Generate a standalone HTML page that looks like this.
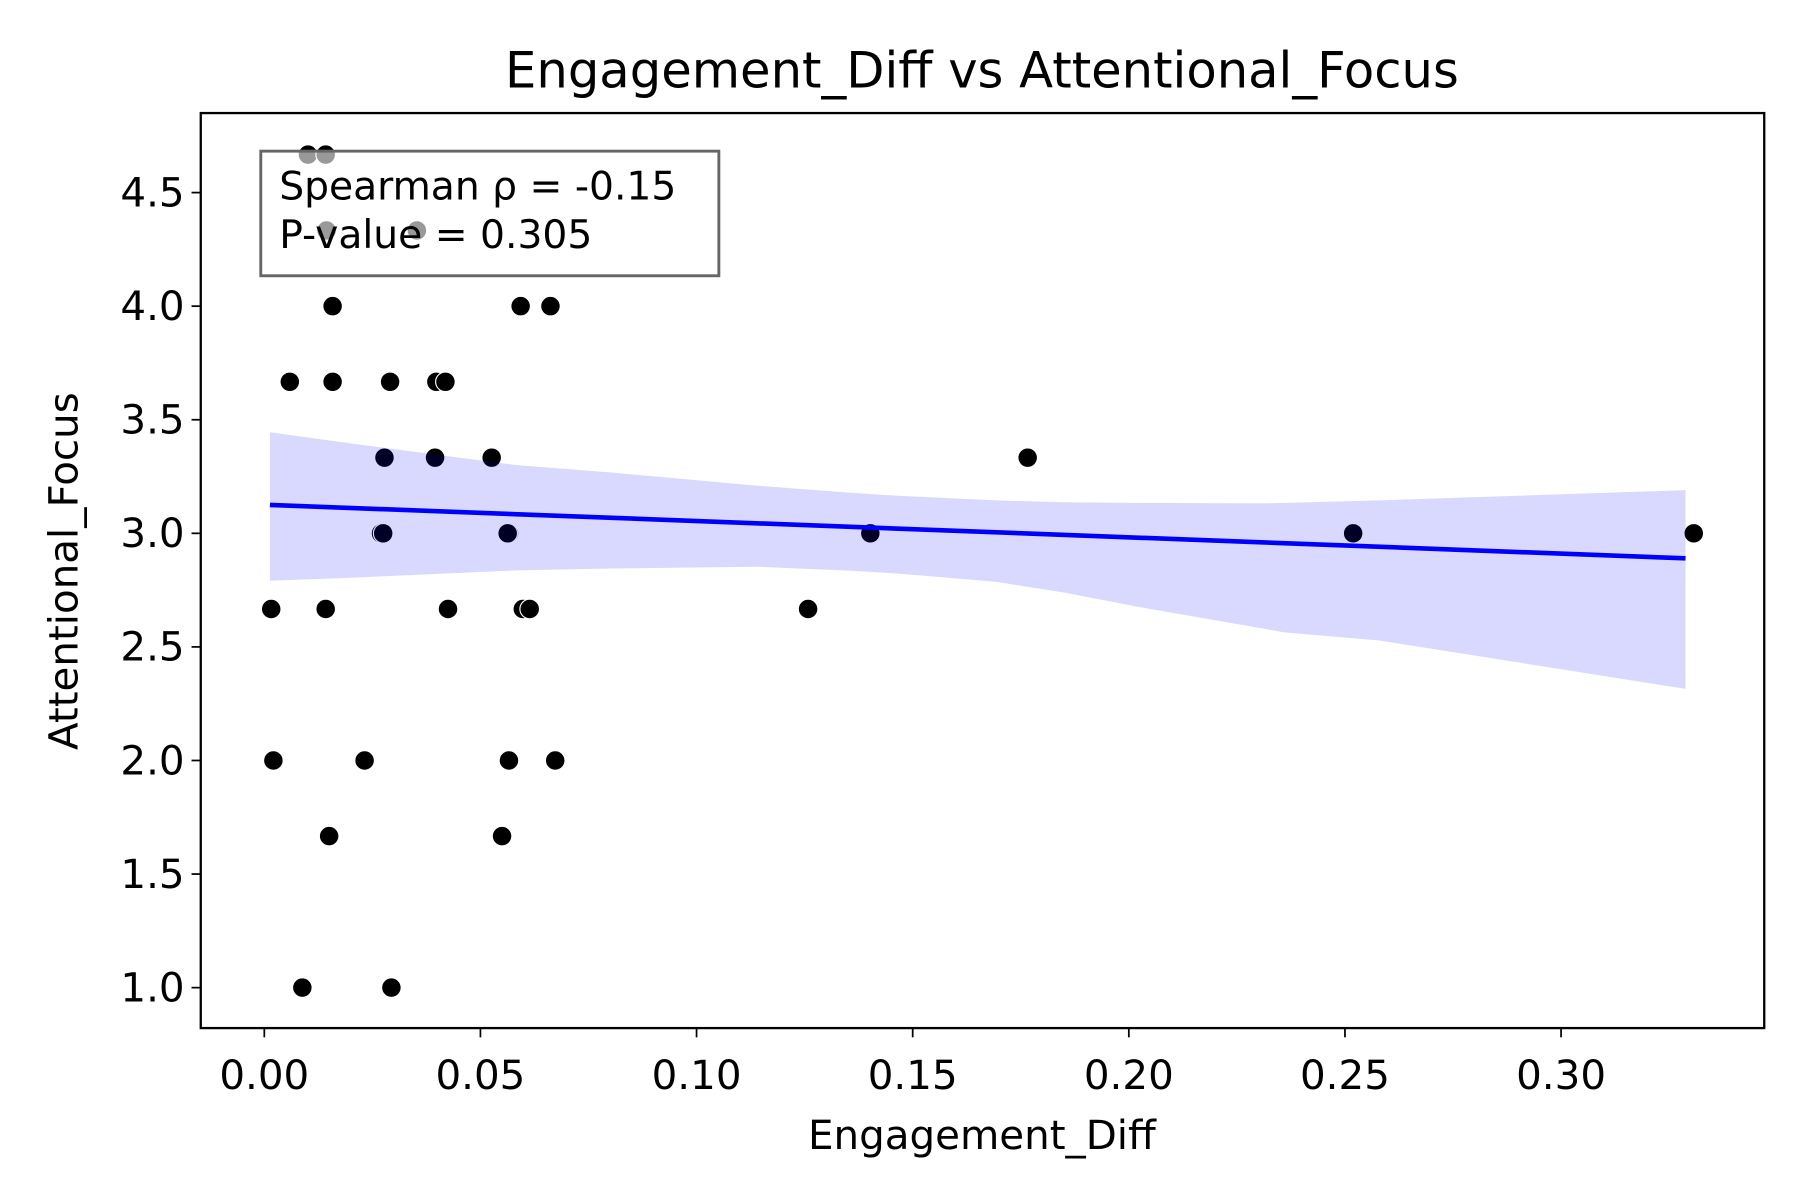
<!DOCTYPE html>
<html><head><meta charset="utf-8"><style>
html,body{margin:0;padding:0;background:#fff;}
svg{display:block;font-family:"DejaVu Sans","Liberation Sans",sans-serif;}
</style></head><body>
<svg id="chart" width="1800" height="1200" viewBox="0 0 1560 1040" xmlns="http://www.w3.org/2000/svg">
<rect x="0" y="0" width="1560" height="1040" fill="#fff"/>
<text x="851" y="76" font-size="43" text-anchor="middle">Engagement_Diff vs Attentional_Focus</text>
<g id="plot"></g>
<text x="851" y="996" font-size="35" text-anchor="middle">Engagement_Diff</text>
<text x="0" y="0" font-size="35" text-anchor="middle" transform="translate(67,495) rotate(-90)">Attentional_Focus</text>
</svg>
<script>
const xValues = [0.0101,0.0142,0.0144,0.0353,0.0158,0.0593,0.0662,0.0059,0.0158,0.0291,0.0398,0.0419,0.0278,0.0395,0.0526,0.1766,0.0270,0.0275,0.0566,0.0563,0.1402,0.2519,0.3307,0.0016,0.0142,0.0425,0.0598,0.0614,0.1258,0.0021,0.0232,0.0566,0.0673,0.0150,0.0550,0.0088,0.0294];
const yValues = [4.667,4.667,4.333,4.333,4.0,4.0,4.0,3.667,3.667,3.667,3.667,3.667,3.333,3.333,3.333,3.333,3.0,3.0,3.0,3.0,3.0,3.0,3.0,2.667,2.667,2.667,2.667,2.667,2.667,2.0,2.0,2.0,2.0,1.667,1.667,1.0,1.0];
const lineX = [0.0013,0.3288];
const lineY = [3.125,2.890];
const bandX = [0.0013,0.0208,0.0585,0.0807,0.1138,0.1360,0.1472,0.1694,0.1848,0.2025,0.2313,0.2359,0.2580,0.3288];
const bandUpper = [3.445,3.394,3.300,3.267,3.210,3.178,3.165,3.145,3.137,3.134,3.132,3.134,3.145,3.190];
const bandLower = [2.791,2.805,2.837,2.845,2.853,2.835,2.822,2.786,2.740,2.675,2.580,2.564,2.528,2.315];
const xTicks = [0.00,0.05,0.10,0.15,0.20,0.25,0.30];
const xTickLabels = ["0.00","0.05","0.10","0.15","0.20","0.25","0.30"];
const yTicks = [1.0,1.5,2.0,2.5,3.0,3.5,4.0,4.5];
const yTickLabels = ["1.0","1.5","2.0","2.5","3.0","3.5","4.0","4.5"];
const statLines = ["Spearman \u03c1 = -0.15","P-value = 0.305"];

const NS="http://www.w3.org/2000/svg";
const L=174,R=1529,T=98,B=891;
const X0=-0.0147,X1=0.347,Y0=0.822,Y1=4.85;
function sx(v){return L+(v-X0)/(X1-X0)*(R-L);}
function sy(v){return B-(v-Y0)/(Y1-Y0)*(B-T);}
const plot=document.getElementById('plot');
function mk(tag,attrs,parent){const e=document.createElementNS(NS,tag);for(const k in attrs)e.setAttribute(k,attrs[k]);(parent||plot).appendChild(e);return e;}

xValues.forEach((x,i)=>{
  const c=mk('circle',{cx:sx(x),cy:sy(yValues[i]),r:8.5,fill:'#000',stroke:'#fff','stroke-width':1});
  
  
});

let pts=[];
bandX.forEach((x,i)=>pts.push(sx(x)+','+sy(bandUpper[i])));
for(let i=bandX.length-1;i>=0;i--)pts.push(sx(bandX[i])+','+sy(bandLower[i]));
const band=mk('polygon',{points:pts.join(' '),fill:'#0000ff','fill-opacity':0.15});


const line=mk('line',{x1:sx(lineX[0]),y1:sy(lineY[0]),x2:sx(lineX[1]),y2:sy(lineY[1]),stroke:'#0000ff','stroke-width':4});



const box=mk('rect',{x:226,y:131,width:397,height:108,fill:'#fff','fill-opacity':0.6,stroke:'#666','stroke-width':2.5});


statLines.forEach((t,i)=>{const e=mk('text',{x:242,y:173+i*42,'font-size':34});e.textContent=t;
  
  });

const fr=mk('rect',{x:L,y:T,width:R-L,height:B-T,fill:'none',stroke:'#000','stroke-width':2});



xTicks.forEach((v,i)=>{const x=sx(v);
  const t=mk('line',{x1:x,y1:B,x2:x,y2:B+8,stroke:'#000','stroke-width':1.5});
  
  
  const l=mk('text',{x:x,y:B+53,'font-size':35,'text-anchor':'middle'});l.textContent=xTickLabels[i];
  
  });
yTicks.forEach((v,i)=>{const y=sy(v);
  const t=mk('line',{x1:L-8,y1:y,x2:L,y2:y,stroke:'#000','stroke-width':1.5});
  
  
  const l=mk('text',{x:L-14,y:y+12,'font-size':35,'text-anchor':'end'});l.textContent=yTickLabels[i];
  
  });
</script>
</body></html>
